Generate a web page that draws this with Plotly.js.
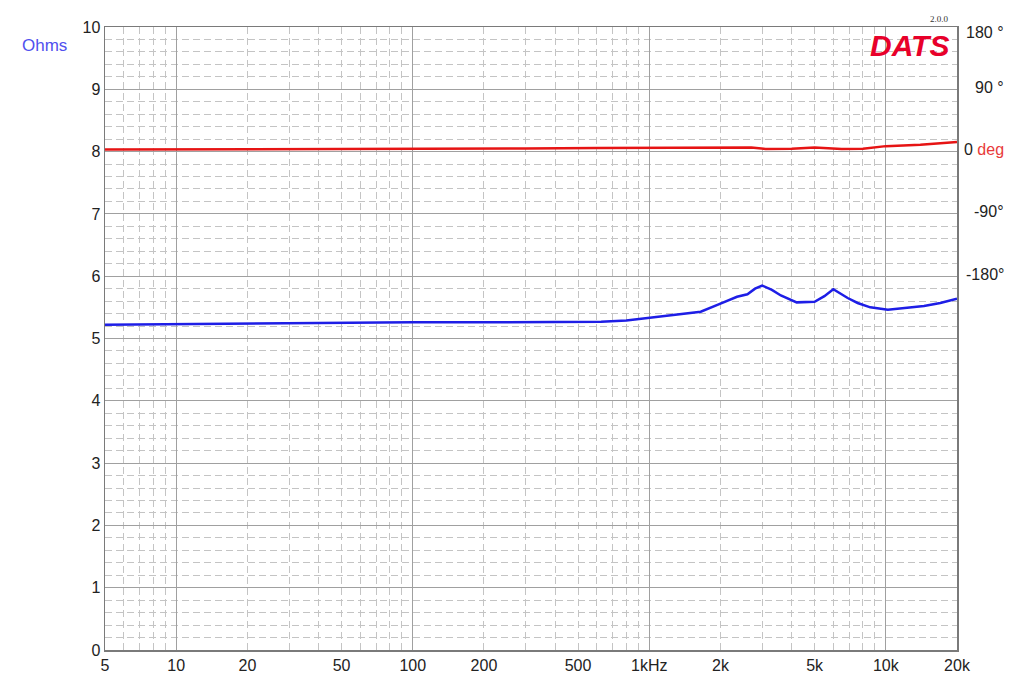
<!DOCTYPE html>
<html>
<head>
<meta charset="utf-8">
<script src="https://cdn.plot.ly/plotly-3.0.1.min.js"></script>
<style>html,body{margin:0;padding:0;background:#fff;}#chart{width:1024px;height:689px;}</style>
</head>
<body>
<div id="chart"></div>
<script>
// Impedance magnitude (Ohms) vs frequency (Hz)
const impFreq = [5, 7, 10, 20, 50, 100, 200, 400, 560, 626, 800, 1000, 1300, 1650, 2000, 2350, 2600, 2800, 3000, 3300, 3600, 4200, 5000, 5500, 6000, 6900, 7600, 8600, 10200, 12400, 14500, 17000, 19500, 20000];
const impOhms = [5.22, 5.225, 5.23, 5.24, 5.25, 5.26, 5.26, 5.26, 5.26, 5.27, 5.29, 5.33, 5.38, 5.43, 5.56, 5.67, 5.71, 5.80, 5.85, 5.78, 5.69, 5.58, 5.59, 5.68, 5.79, 5.65, 5.57, 5.50, 5.46, 5.49, 5.52, 5.57, 5.63, 5.64];
// Phase (degrees) vs frequency (Hz)
const phaseFreq = [5, 100, 300, 600, 1000, 2000, 2700, 3100, 4000, 5000, 6000, 6500, 8000, 9000, 10000, 14000, 20000];
const phaseDeg = [3, 3.5, 4.5, 5.3, 5.8, 6.5, 5.8, 3.9, 4.0, 5.8, 4.5, 3.6, 4.0, 6.0, 7.9, 10, 14];

// Axis labels
const xTickVals = [5, 10, 20, 50, 100, 200, 500, 1000, 2000, 5000, 10000, 20000];
const xTickText = ['5', '10', '20', '50', '100', '200', '500', '1kHz', '2k', '5k', '10k', '20k'];
const xDecades = [10, 100, 1000, 10000];
const xMinorMult = [2, 3, 4, 5, 6, 7, 8, 9];
const phaseTickVals = [180, 90, 0, -90, -180];
const phaseTickText = ['180 °', '90 °', '0 <span style="color:#e83a3a">deg</span>', '-90°', '-180°'];

const minorX = [];
[1, 10, 100, 1000, 10000].forEach(d => xMinorMult.forEach(m => {
  const v = d * m;
  if (v > 5 && v < 20000) minorX.push(v);
}));

const FONT = 'Liberation Sans, Arial, Helvetica, sans-serif';
const lo = Math.log10(5), hi = Math.log10(20000);

const traces = [
  {x: impFreq, y: impOhms, type: 'scatter', mode: 'lines', xaxis: 'x', yaxis: 'y',
   line: {color: '#1e1ee6', width: 2.5, shape: 'linear'}, hoverinfo: 'x+y', name: 'Ohms'},
  {x: phaseFreq, y: phaseDeg, type: 'scatter', mode: 'lines', xaxis: 'x2', yaxis: 'y2',
   line: {color: '#e61414', width: 2.5}, name: 'deg'}
];

const annotations = phaseTickVals.map((v, i) => ({
  xref: 'paper', x: 1, xanchor: 'right', xshift: 49,
  yref: 'y2', y: v, yanchor: 'middle', yshift: (v === 180 ? -5 : 2),
  text: phaseTickText[i], showarrow: false,
  font: {family: FONT, size: 16, color: '#222'}
}));
annotations.push({
  xref: 'paper', x: 0, xanchor: 'right', xshift: -36,
  yref: 'paper', y: 1, yanchor: 'middle', yshift: -18,
  text: 'Ohms', showarrow: false, font: {family: FONT, size: 17, color: '#5050ee'}
});
annotations.push({
  xref: 'paper', x: 1, xanchor: 'right', xshift: -6,
  yref: 'paper', y: 1, yanchor: 'top', yshift: 0,
  text: '<b><i>DATS</i></b>', showarrow: false, font: {family: FONT, size: 30, color: '#e8002a'}
});
annotations.push({
  xref: 'paper', x: 1, xanchor: 'right', xshift: -6,
  yref: 'paper', y: 1, yanchor: 'bottom', yshift: 1,
  text: '2.0.0', showarrow: false, font: {family: 'Liberation Serif, DejaVu Serif, serif', size: 9, color: '#333'}
});

const layout = {
  width: 1024, height: 689,
  margin: {l: 105, r: 67, t: 27, b: 39, pad: 0},
  paper_bgcolor: '#ffffff', plot_bgcolor: '#ffffff',
  showlegend: false,
  font: {family: FONT, size: 16, color: '#222'},
  xaxis: {
    type: 'log', range: [lo, hi], tickmode: 'array', tickvals: xTickVals, ticktext: xTickText,
    showgrid: false, ticks: '', zeroline: false,
    tickfont: {family: FONT, size: 16, color: '#222'},
    showline: true, linecolor: '#7a7a7a', linewidth: 1.5, mirror: true,
    minor: {tickmode: 'array', tickvals: minorX, showgrid: true, gridcolor: '#c4c4c4', griddash: '7px,4px', gridwidth: 1, ticks: ''}
  },
  xaxis2: {
    type: 'log', range: [lo, hi], overlaying: 'x', tickmode: 'array', tickvals: xDecades,
    showgrid: true, gridcolor: '#a0a0a0', gridwidth: 1, showticklabels: false, ticks: '', zeroline: false
  },
  yaxis: {
    range: [0, 10], tickmode: 'linear', tick0: 0, dtick: 1, showgrid: true, gridcolor: '#a0a0a0', gridwidth: 1,
    ticks: '', zeroline: false, tickfont: {family: FONT, size: 16, color: '#222'},
    showline: true, linecolor: '#7a7a7a', linewidth: 1.5, mirror: true,
    minor: {tickmode: 'linear', dtick: 0.2, showgrid: true, gridcolor: '#c4c4c4', griddash: '7px,4px', gridwidth: 1, ticks: ''}
  },
  yaxis2: {
    range: [-720, 180], overlaying: 'y', side: 'right', showgrid: false, showticklabels: false,
    ticks: '', zeroline: false
  },
  annotations: annotations
};

Plotly.newPlot('chart', traces, layout, {displayModeBar: false, staticPlot: true});
</script>
</body>
</html>
